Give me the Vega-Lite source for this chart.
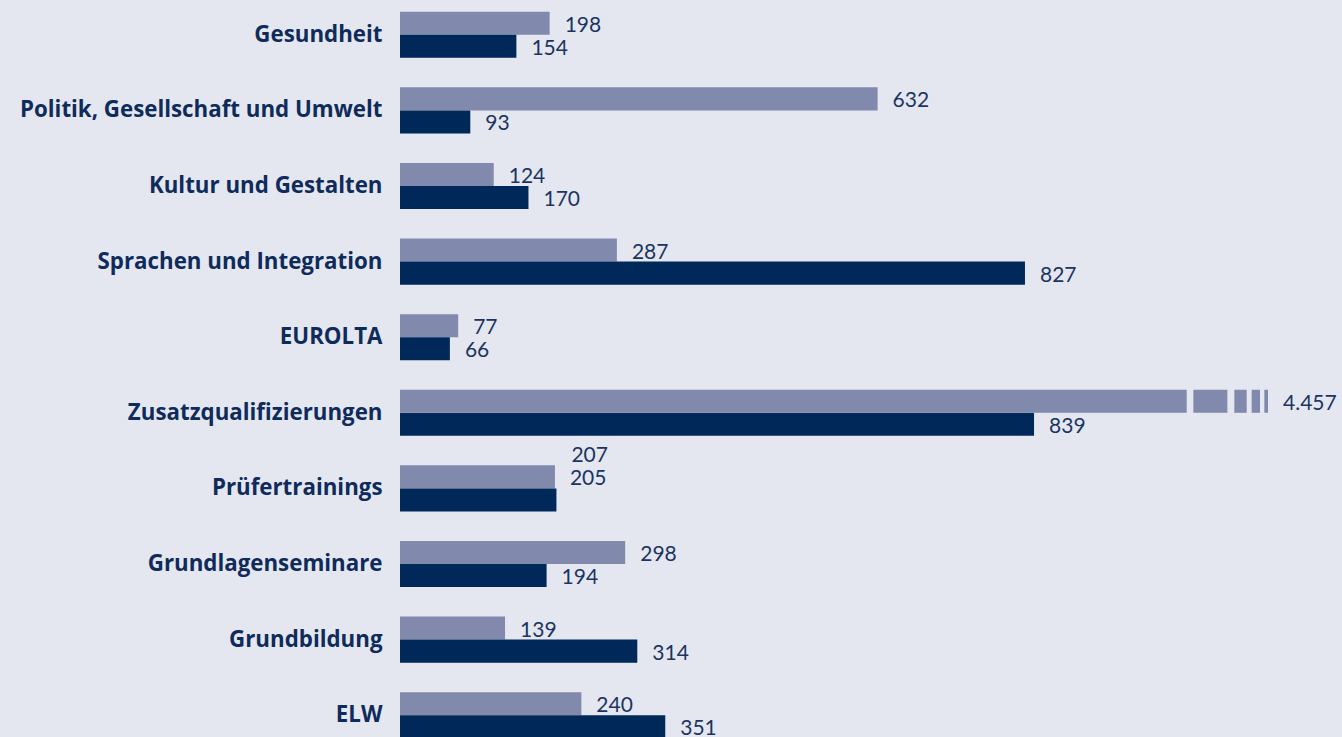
{
  "$schema": "https://vega.github.io/schema/vega-lite/v6.json",
  "width": 942,
  "height": 737,
  "autosize": {"type": "none"},
  "padding": {"left": 400, "top": 0, "right": 0, "bottom": 0},
  "background": "#E4E7F0",
  "config": {
    "view": {"stroke": null},
    "locale": {"number": {"decimal": ",", "thousands": ".", "grouping": [3], "currency": ["", " €"]}},
    "text": {"font": "Lato", "fontSize": 21, "color": "#1B3461"}
  },
  "datasets": {
    "bars": [
      {"Bereich": "Gesundheit", "Reihe": "A", "Wert": 198},
      {"Bereich": "Gesundheit", "Reihe": "B", "Wert": 154},
      {"Bereich": "Politik, Gesellschaft und Umwelt", "Reihe": "A", "Wert": 632},
      {"Bereich": "Politik, Gesellschaft und Umwelt", "Reihe": "B", "Wert": 93},
      {"Bereich": "Kultur und Gestalten", "Reihe": "A", "Wert": 124},
      {"Bereich": "Kultur und Gestalten", "Reihe": "B", "Wert": 170},
      {"Bereich": "Sprachen und Integration", "Reihe": "A", "Wert": 287},
      {"Bereich": "Sprachen und Integration", "Reihe": "B", "Wert": 827},
      {"Bereich": "EUROLTA", "Reihe": "A", "Wert": 77},
      {"Bereich": "EUROLTA", "Reihe": "B", "Wert": 66},
      {"Bereich": "Zusatzqualifizierungen", "Reihe": "A", "Wert": 4457},
      {"Bereich": "Zusatzqualifizierungen", "Reihe": "B", "Wert": 839},
      {"Bereich": "Prüfertrainings", "Reihe": "A", "Wert": 205},
      {"Bereich": "Prüfertrainings", "Reihe": "B", "Wert": 207},
      {"Bereich": "Grundlagenseminare", "Reihe": "A", "Wert": 298},
      {"Bereich": "Grundlagenseminare", "Reihe": "B", "Wert": 194},
      {"Bereich": "Grundbildung", "Reihe": "A", "Wert": 139},
      {"Bereich": "Grundbildung", "Reihe": "B", "Wert": 314},
      {"Bereich": "ELW", "Reihe": "A", "Wert": 240},
      {"Bereich": "ELW", "Reihe": "B", "Wert": 351}
    ],
    "breaks": [
      {"Bereich": "Zusatzqualifizierungen", "Reihe": "A", "von": 0, "bis": 1041, "Wert": 4457},
      {"Bereich": "Zusatzqualifizierungen", "Reihe": "A", "von": 1049.8, "bis": 1094.8, "Wert": 4457},
      {"Bereich": "Zusatzqualifizierungen", "Reihe": "A", "von": 1104, "bis": 1120.4, "Wert": 4457},
      {"Bereich": "Zusatzqualifizierungen", "Reihe": "A", "von": 1127, "bis": 1138, "Wert": 4457},
      {"Bereich": "Zusatzqualifizierungen", "Reihe": "A", "von": 1143.7, "bis": 1148.6, "Wert": 4457}
    ]
  },
  "encoding": {
    "y": {
      "field": "Bereich",
      "type": "nominal",
      "sort": ["Gesundheit", "Politik, Gesellschaft und Umwelt", "Kultur und Gestalten", "Sprachen und Integration", "EUROLTA", "Zusatzqualifizierungen", "Prüfertrainings", "Grundlagenseminare", "Grundbildung", "ELW"],
      "scale": {"range": [-3, 753], "paddingInner": 0.39, "paddingOuter": 0.195},
      "axis": {
        "title": null,
        "domain": false,
        "ticks": false,
        "grid": false,
        "labelPadding": 18,
        "labelFont": "Open Sans",
        "labelFontWeight": "bold",
        "labelFontSize": 22.3,
        "labelColor": "#0F2B5B",
        "labelLimit": 400
      }
    },
    "yOffset": {
      "field": "Reihe",
      "type": "nominal",
      "scale": {"domain": ["A", "B"], "paddingInner": 0, "paddingOuter": 0}
    }
  },
  "layer": [
    {
      "data": {"name": "bars"},
      "transform": [{"filter": "datum.Wert < 2000"}],
      "mark": {"type": "bar"},
      "encoding": {
        "x": {"field": "Wert", "type": "quantitative", "scale": {"domain": [0, 1246.5], "nice": false, "zero": true}, "axis": null},
        "color": {"field": "Reihe", "type": "nominal", "scale": {"domain": ["A", "B"], "range": ["#8189AC", "#00295A"]}, "legend": null}
      }
    },
    {
      "data": {"name": "breaks"},
      "mark": {"type": "bar"},
      "encoding": {
        "x": {"field": "von", "type": "quantitative"},
        "x2": {"field": "bis"},
        "color": {"field": "Reihe", "type": "nominal", "legend": null}
      }
    },
    {
      "data": {"name": "bars"},
      "transform": [{"filter": "datum.Wert < 2000 && !(datum.Bereich == 'Prüfertrainings' && datum.Reihe == 'B')"}],
      "mark": {"type": "text", "align": "left", "baseline": "middle", "dx": 15, "dy": 2.5},
      "encoding": {
        "x": {"field": "Wert", "type": "quantitative"},
        "text": {"field": "Wert", "type": "quantitative", "format": ",d"}
      }
    },
    {
      "data": {"name": "bars"},
      "transform": [{"filter": "datum.Bereich == 'Prüfertrainings' && datum.Reihe == 'B'"}],
      "mark": {"type": "text", "align": "left", "baseline": "middle", "dx": 15, "dy": -44},
      "encoding": {
        "x": {"field": "Wert", "type": "quantitative"},
        "text": {"field": "Wert", "type": "quantitative", "format": ",d"}
      }
    },
    {
      "data": {"name": "breaks"},
      "transform": [{"aggregate": [{"op": "max", "field": "bis", "as": "bis"}, {"op": "max", "field": "Wert", "as": "Wert"}], "groupby": ["Bereich", "Reihe"]}],
      "mark": {"type": "text", "align": "left", "baseline": "middle", "dx": 15, "dy": 2.5},
      "encoding": {
        "x": {"field": "bis", "type": "quantitative"},
        "text": {"field": "Wert", "type": "quantitative", "format": ",d"}
      }
    }
  ]
}
